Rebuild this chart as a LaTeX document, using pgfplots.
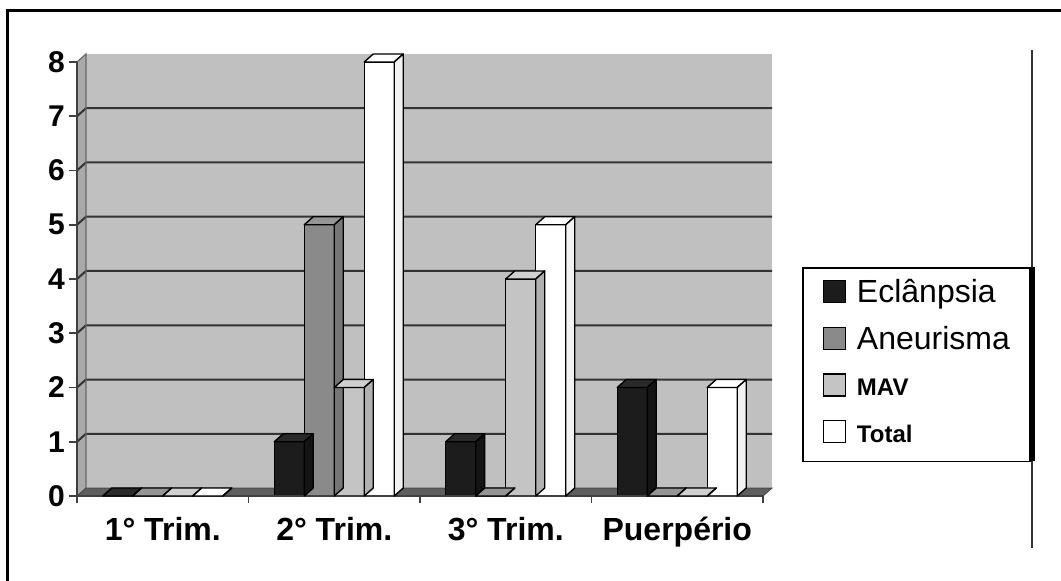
\documentclass[border=0pt]{standalone}
\usepackage{pgfplots}
\pgfplotsset{compat=1.18}
\usepackage{pgfplotstable}
\usepackage{fontspec}
\setmainfont{Liberation Sans}
\definecolor{wallc}{HTML}{C0C0C0}
\definecolor{sidewallc}{HTML}{A9A9A9}
\definecolor{floorc}{HTML}{5E5E5E}
\definecolor{gridc}{HTML}{333333}
\definecolor{eclF}{HTML}{1C1C1C}
\definecolor{eclT}{HTML}{2A2A2A}
\definecolor{eclS}{HTML}{141414}
\definecolor{aneF}{HTML}{8A8A8A}
\definecolor{aneT}{HTML}{959595}
\definecolor{aneS}{HTML}{767676}
\definecolor{mavF}{HTML}{C4C4C4}
\definecolor{mavT}{HTML}{D0D0D0}
\definecolor{mavS}{HTML}{B0B0B0}
\definecolor{totF}{HTML}{FFFFFF}
\definecolor{totT}{HTML}{FFFFFF}
\definecolor{totS}{HTML}{F2F2F2}

\newcommand\declbox[3]{%
  \pgfdeclareplotmark{#1}{%
    \pgfmathsetlengthmacro\bh{\barval*27.125pt}%
    \filldraw[fill=#2,draw=black,line width=0.7pt,line join=round] (-7.5pt,0pt) -- (7.5pt,0pt) -- (12pt,4pt) -- (-3pt,4pt) -- cycle;
    \filldraw[fill=#3,draw=black,line width=0.7pt,line join=round] (7.5pt,0pt) -- (12pt,4pt) -- (12pt,4pt-\bh) -- (7.5pt,-\bh) -- cycle;
  }}
\declbox{boxecl}{eclT}{eclS}
\declbox{boxane}{aneT}{aneS}
\declbox{boxmav}{mavT}{mavS}
\declbox{boxtot}{totT}{totS}

\pgfplotsset{sq legend/.style={legend image code/.code={\draw[##1,draw=black,line width=0.6pt] (0pt,0pt) rectangle (11pt,11pt);}}}

\pgfplotstableread{
x ecl ane mav tot
0 0 0 0 0
1 1 5 2 8
2 1 0 4 5
3 2 0 0 2
}\data

\begin{document}
\begin{tikzpicture}
\begin{axis}[
  x=85.75pt, y=27.125pt,
  xmin=-0.5, xmax=3.5, ymin=0, ymax=8,
  clip=false, axis on top,
  axis x line*=bottom, axis y line*=left,
  axis line style={draw=black!75, line width=1pt},
  xtick={0,1,2,3},
  xticklabels={1° Trim., 2° Trim., 3° Trim., Puerpério},
  minor xtick={-0.5,0.5,1.5,2.5,3.5},
  ytick={0,1,...,8},
  tick align=outside,
  major tick length=4pt, minor tick length=3.5pt,
  major x tick style={draw=none},
  tick style={draw=black!75, line width=0.8pt},
  /pgf/number format/assume math mode=true,
  yticklabel style={font=\bfseries\fontsize{15}{15}\selectfont, xshift=1.5pt},
  xticklabel style={font=\bfseries\fontsize{16}{16}\selectfont, yshift=-3pt},
  legend style={at={(1.0569,0.5276)}, anchor=north west, draw=black, line width=0.75pt,
    inner xsep=10pt, inner ysep=6pt, row sep=8.3pt, column sep=5.5pt,
    cells={anchor=base west},
    nodes={inner sep=0pt, text height=11.5pt, text depth=3.5pt}},
]
\coordinate (O) at (rel axis cs:0,0);
% left side wall
\fill[sidewallc] (axis cs:-0.5,0) -- (axis cs:-0.5,8) -- ([shift={(4.5pt,4pt)}]axis cs:-0.5,8) -- ([shift={(4.5pt,4pt)}]axis cs:-0.5,0) -- cycle;
% back wall
\fill[wallc] ([shift={(4.5pt,4pt)}]axis cs:-0.5,0) rectangle ([shift={(4.5pt,4pt)}]axis cs:3.5,8);
\pgfplotsinvokeforeach{1,...,7}{
  \draw[gridc, line width=1pt] (axis cs:-0.5,#1) -- ([shift={(4.5pt,4pt)}]axis cs:-0.5,#1) -- ([shift={(4.5pt,4pt)}]axis cs:3.5,#1);
}
\draw[black!60, line width=0.6pt] ([shift={(4.5pt,4pt)}]axis cs:-0.5,0) -- ([shift={(4.5pt,4pt)}]axis cs:-0.5,8) -- (axis cs:-0.5,8);
% floor
\filldraw[fill=floorc, draw=black!70, line width=0.5pt] (axis cs:-0.5,0) -- (axis cs:3.5,0) -- ([shift={(4.5pt,4pt)}]axis cs:3.5,0) -- ([shift={(4.5pt,4pt)}]axis cs:-0.5,0) -- cycle;

% Eclanpsia
\addplot[ybar, bar width=15pt, bar shift=-22.5pt, fill=eclF, draw=black, line width=0.7pt, sq legend] table[x=x,y=ecl]{\data};
\addlegendentry{\fontsize{16}{16}\selectfont Eclânpsia}
\addplot[only marks, mark=boxecl, forget plot, visualization depends on={rawy \as \barval}] table[x expr=\thisrow{x}-0.262391, y=ecl]{\data};
% Aneurisma
\addplot[ybar, bar width=15pt, bar shift=-7.5pt, fill=aneF, draw=black, line width=0.7pt, sq legend] table[x=x,y=ane]{\data};
\addlegendentry{\fontsize{16}{16}\selectfont Aneurisma}
\addplot[only marks, mark=boxane, forget plot, visualization depends on={rawy \as \barval}] table[x expr=\thisrow{x}-0.087464, y=ane]{\data};
% MAV
\addplot[ybar, bar width=15pt, bar shift=7.5pt, fill=mavF, draw=black, line width=0.7pt, sq legend] table[x=x,y=mav]{\data};
\addlegendentry{\bfseries\fontsize{12}{12}\selectfont MAV}
\addplot[only marks, mark=boxmav, forget plot, visualization depends on={rawy \as \barval}] table[x expr=\thisrow{x}+0.087464, y=mav]{\data};
% Total
\addplot[ybar, bar width=15pt, bar shift=22.5pt, fill=totF, draw=black, line width=0.7pt, sq legend] table[x=x,y=tot]{\data};
\addlegendentry{\bfseries\fontsize{12}{12}\selectfont Total}
\addplot[only marks, mark=boxtot, forget plot, visualization depends on={rawy \as \barval}] table[x expr=\thisrow{x}+0.262391, y=tot]{\data};
\end{axis}
\begin{scope}[shift={(O)}, xshift=-38.5pt, yshift=-42pt, x=0.5pt, y=0.5pt]
% outer frame
\draw[line width=1.5pt] (8,-20) -- (8,569) -- (1080,569);
% thin vertical line
\draw[black!80, line width=0.6pt] (1032,530) -- (1032,32);
% legend shadow edge
\draw[line width=1.6pt] (1033,313) -- (1033,119);
\pgfresetboundingbox
\useasboundingbox (0,0) rectangle (1061,580);
\end{scope}
\end{tikzpicture}
\end{document}
